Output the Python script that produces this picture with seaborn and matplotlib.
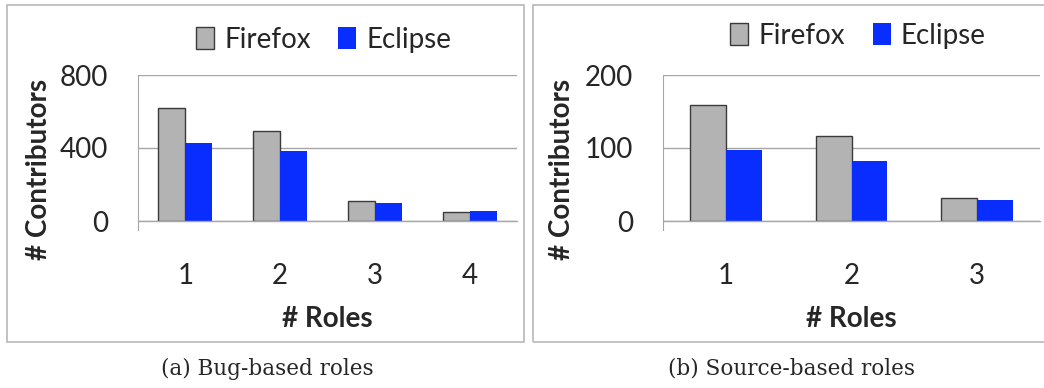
import matplotlib
matplotlib.use("Agg")
import matplotlib.pyplot as plt
import pandas as pd
import seaborn as sns
from matplotlib.patches import Rectangle
from matplotlib.ticker import FixedLocator

# data
series = ["Firefox", "Eclipse"]
bug_roles = ["1", "2", "3", "4"]
bug_firefox = [620, 494, 108, 51]
bug_eclipse = [425, 386, 99, 55]
src_roles = ["1", "2", "3"]
src_firefox = [159, 117, 32]
src_eclipse = [97, 82, 29]

colors = {"Firefox": "#b3b3b3", "Eclipse": "#0a2dff"}
grid_gray = "#a6a6a6"

sns.set_style("white")
plt.rcParams["font.family"] = ["Lato", "DejaVu Sans"]

W, H = 1044, 388
fig = plt.figure(figsize=(W / 100, H / 100), dpi=100)


def px_axes(x0, y0, x1, y1):
    # pixel box (top-left origin) -> figure fraction
    return [x0 / W, 1 - y1 / H, (x1 - x0) / W, (y1 - y0) / H]


def draw_panel(box, rect, roles, ff, ec, ymax, ystep, label_x, legend_xy, caption, cap_x):
    # light frame round the panel
    bx0, by0, bx1, by1 = box
    fig.patches.append(Rectangle((bx0 / W, 1 - by1 / H), (bx1 - bx0) / W, (by1 - by0) / H,
                                 transform=fig.transFigure, fill=False,
                                 edgecolor="#b8b8b8", linewidth=1.2))
    ax = fig.add_axes(px_axes(*rect))
    df = pd.DataFrame({
        "role": roles * 2,
        "series": [series[0]] * len(roles) + [series[1]] * len(roles),
        "count": ff + ec,
    })
    sns.barplot(data=df, x="role", y="count", hue="series", palette=colors,
                width=0.57, saturation=1, ax=ax, legend=True)
    for bar in ax.containers[0]:
        bar.set_edgecolor("#3a3a3a")
        bar.set_linewidth(1.0)
    for bar in ax.containers[1]:
        bar.set_edgecolor("none")

    ax.set_ylim(0, ymax)
    ax.set_xlim(-0.5, len(roles) - 0.5)
    ax.set_yticks([0, ystep, 2 * ystep])
    ax.yaxis.grid(True, color=grid_gray, linewidth=1.0)
    ax.set_axisbelow(True)
    for s in ["top", "right", "bottom"]:
        ax.spines[s].set_visible(False)
    ax.spines["left"].set_color(grid_gray)
    ax.spines["left"].set_bounds(-ymax * 0.062, ymax)

    ax.tick_params(axis="y", length=6.5, color=grid_gray, pad=15, labelsize=20)
    ax.tick_params(axis="x", which="major", length=0, pad=30, labelsize=20)
    ax.xaxis.set_minor_locator(FixedLocator([i - 0.5 for i in range(len(roles) + 1)]))
    ax.tick_params(axis="x", which="minor", length=6.5, color=grid_gray, width=1.0)
    ax.axhline(0, color=grid_gray, linewidth=1.0, clip_on=False)

    ax.set_ylabel("# Contributors", fontsize=20, fontweight="bold")
    ax.yaxis.set_label_coords(label_x, 0.35)
    ax.set_xlabel("# Roles", fontsize=20, fontweight="bold")
    ax.xaxis.set_label_coords(0.5, -0.58)

    leg = ax.legend(title=None, ncol=2, frameon=False, fontsize=20,
                    handlelength=0.65, handleheight=0.85, handletextpad=0.35,
                    columnspacing=1.0, loc="center", bbox_to_anchor=legend_xy,
                    borderaxespad=0)
    leg.legend_handles[0].set_edgecolor("#3a3a3a")
    leg.legend_handles[0].set_linewidth(1.0)
    leg.legend_handles[1].set_edgecolor("none")
    fig.text(cap_x / W, 1 - 369 / H, caption, ha="center", va="center",
             fontsize=15.5, family="DejaVu Serif")
    return ax


draw_panel((7, 5, 524, 342), (138, 75, 517, 221), bug_roles, bug_firefox, bug_eclipse,
           800, 400, -0.227, (0.49, 1.24), "(a) Bug-based roles", 267)
draw_panel((533, 5, 1050, 342), (663, 75, 1040, 221), src_roles, src_firefox, src_eclipse,
           200, 100, -0.233, (0.517, 1.27), "(b) Source-based roles", 792)

fig.savefig("out.png", dpi=100)
